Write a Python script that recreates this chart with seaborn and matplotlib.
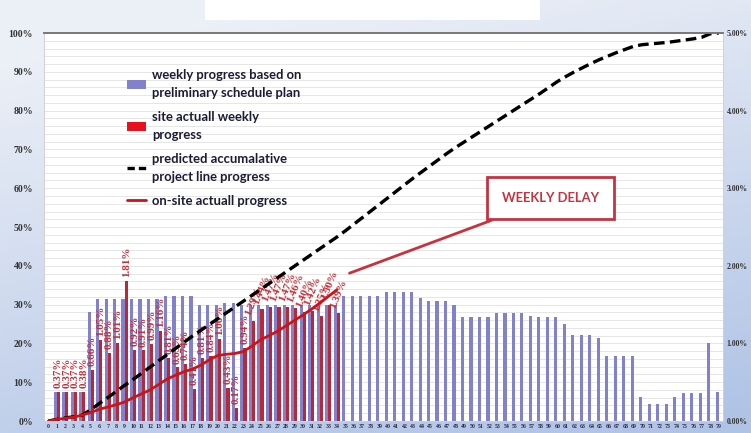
import numpy as np
import pandas as pd
import matplotlib
matplotlib.use("Agg")
import matplotlib.pyplot as plt
import seaborn as sns
from matplotlib.patches import Patch, Rectangle
from matplotlib.lines import Line2D
from matplotlib.ticker import FuncFormatter

# ---------------- data ----------------
weeks = list(range(80))

# weekly progress based on preliminary schedule plan (right axis, %)
plan_weekly = [0.00, 0.38, 0.38, 0.38, 0.38, 1.41, 1.57, 1.57, 1.57, 1.57,
               1.57, 1.57, 1.57, 1.57, 1.61, 1.61, 1.61, 1.61, 1.50, 1.50,
               1.50, 1.52, 1.52, 1.49, 1.49, 1.49, 1.49, 1.49, 1.49, 1.49,
               1.49, 1.49, 1.49, 1.49, 1.49, 1.61, 1.61, 1.61, 1.61, 1.61,
               1.66, 1.66, 1.66, 1.66, 1.58, 1.55, 1.55, 1.55, 1.49, 1.34,
               1.34, 1.34, 1.34, 1.39, 1.39, 1.39, 1.39, 1.35, 1.34, 1.34,
               1.34, 1.25, 1.11, 1.11, 1.11, 1.07, 0.84, 0.84, 0.84, 0.84,
               0.31, 0.22, 0.22, 0.22, 0.31, 0.36, 0.36, 0.36, 1.01, 0.38]

# site actual weekly progress (right axis, %)
actual_weeks = list(range(1, 35))
actual_weekly = [0.37, 0.37, 0.37, 0.38, 0.66, 1.05, 0.88, 1.01, 1.81, 0.92,
                 0.91, 0.99, 1.16, 0.81, 0.69, 0.74, 0.41, 0.81, 0.84, 1.06,
                 0.43, 0.17, 0.94, 1.29, 1.44, 1.47, 1.47, 1.47, 1.46, 1.40,
                 1.42, 1.35, 1.50, 1.39]

# predicted accumulative project line progress (left axis, %)
planned_cum = [0.0, 0.4, 0.8, 1.1, 1.5, 2.9, 4.5, 6.0, 7.6, 9.2,
               10.7, 12.3, 13.9, 15.5, 17.1, 18.7, 20.3, 21.9, 23.4, 24.9,
               26.4, 27.9, 29.4, 30.9, 32.4, 33.9, 35.4, 36.9, 38.4, 39.9,
               41.4, 42.9, 44.4, 45.9, 47.4, 49.0, 50.7, 52.4, 54.1, 55.8,
               57.5, 59.2, 60.9, 62.6, 64.2, 65.8, 67.4, 69.0, 70.5, 71.9,
               73.3, 74.7, 76.1, 77.5, 78.9, 80.3, 81.7, 83.1, 84.5, 86.0,
               87.5, 88.8, 90.0, 91.1, 92.2, 93.2, 94.1, 95.0, 95.8, 96.6,
               97.0, 97.2, 97.4, 97.6, 97.9, 98.2, 98.5, 98.9, 99.8, 100.0]

# on-site actual progress (left axis, %)
actual_cum_weeks = list(range(0, 35))
actual_cum = [0.0, 0.4, 0.7, 1.0, 1.5, 2.2, 3.0, 3.6, 4.2, 4.9,
              6.0, 7.0, 8.0, 9.4, 10.8, 11.8, 12.7, 13.4, 14.4, 15.8,
              16.9, 17.2, 17.4, 17.9, 19.3, 20.9, 22.0, 23.1, 24.5, 25.9,
              27.3, 28.8, 30.4, 32.1, 33.8]

left_ticks = [0, 10, 20, 30, 40, 50, 60, 70, 80, 90, 100]
right_ticks = [0, 1, 2, 3, 4, 5]
legend_labels = ["weekly progress based on\npreliminary schedule plan",
                 "site actuall weekly\nprogress",
                 "predicted accumalative\nproject line progress",
                 "on-site actuall progress"]
annotation_text = "WEEKLY DELAY"

# ---------------- style ----------------
sns.set_theme(style="white")
plt.rcParams['font.family'] = ['Liberation Serif', 'DejaVu Serif']

BLUE = '#8282cc'
RED_BAR = '#b82838'
RED_LINE = '#cc1418'
RED_TXT = '#c4303a'
ANN_RED = '#c8323e'

fig = plt.figure(figsize=(7.51, 4.33), dpi=100)

# background gradient
bg = fig.add_axes([0, 0, 1, 1], zorder=-10)
ny, nx = 120, 240
yy = np.linspace(0, 1, ny)[:, None]
xx = np.linspace(0, 1, nx)[None, :]
c_top = np.array([0.925, 0.940, 0.968])
c_bot = np.array([0.690, 0.765, 0.900])
t = np.clip(yy * 0.85 + xx * 0.30 - 0.12, 0, 1)
img = c_top[None, None, :] * (1 - t[..., None]) + c_bot[None, None, :] * t[..., None]
bg.imshow(img, aspect='auto', extent=[0, 1, 0, 1], origin='upper')
bg.set_axis_off()
fig.patches.append(Rectangle((0.273, 0.954), 0.446, 0.046, transform=fig.transFigure,
                             facecolor='white', edgecolor='none', zorder=-5))

# bars axis (right scale)
ax2 = fig.add_axes([0.0586, 0.0277, 0.904, 0.896])
ax2.set_facecolor('white')

df_plan = pd.DataFrame({'week': weeks, 'value': plan_weekly, 'series': 'plan'})
df_act = pd.DataFrame({'week': actual_weeks, 'value': actual_weekly, 'series': 'actual'})
df = pd.concat([df_plan, df_act], ignore_index=True)

sns.barplot(data=df, x='week', y='value', hue='series', order=weeks,
            hue_order=['plan', 'actual'], palette={'plan': BLUE, 'actual': RED_BAR},
            dodge=True, width=0.74, saturation=1, errorbar=None, legend=False,
            linewidth=0, ax=ax2)

# lines axis (left scale)
ax = ax2.twinx()

ax2.set_xlim(-0.5, 79.5)
ax2.set_ylim(0, 5)
ax2.yaxis.tick_right()
ax2.yaxis.set_label_position('right')
ax2.set_yticks(right_ticks)
ax2.yaxis.set_major_formatter(FuncFormatter(lambda v, p: f"{v:.2f}%"))
ax2.set_yticks(np.arange(0, 5.001, 0.1), minor=True)
ax2.yaxis.set_minor_formatter(FuncFormatter(lambda v, p: ""))
ax2.grid(True, which='both', axis='y', color='#e2e2e2', linewidth=0.6)
ax2.set_axisbelow(True)
ax2.set_xticks(weeks)
ax2.set_xticklabels([str(w) for w in weeks])
ax2.tick_params(axis='x', length=0, pad=2, labelsize=4.2, labelcolor='#2a2a48')
ax2.tick_params(axis='y', which='both', length=0, pad=2.5, labelsize=5.6, labelcolor='#333333',
                left=False, labelleft=False, right=True, labelright=True)
for lab in ax2.get_xticklabels() + ax2.get_yticklabels():
    lab.set_fontweight('bold')
ax2.set_xlabel('')
ax2.set_ylabel('')

# labels above red bars
red_patches = [p for p in ax2.containers[1] if np.isfinite(p.get_height())]
red_patches = sorted(red_patches, key=lambda p: p.get_x())
for p, v, w in zip(red_patches, actual_weekly, actual_weeks):
    rot = 90 if w < 24 else 68
    ax2.text(p.get_x() + p.get_width() / 2, p.get_height() + 0.05, f"{v:.2f}%",
             rotation=rot, ha='center', va='bottom', fontsize=8, fontweight='bold',
             color=RED_TXT)

ax.patch.set_visible(False)
sns.lineplot(x=weeks, y=planned_cum, ax=ax, color='black', linewidth=2.4)
ax.lines[-1].set_linestyle((0, (3.2, 1.6)))
sns.lineplot(x=actual_cum_weeks, y=actual_cum, ax=ax, color=RED_LINE, linewidth=2.0)
ax.set_ylim(0, 100)
ax.set_xlim(-0.5, 79.5)
ax.yaxis.tick_left()
ax.set_yticks(left_ticks)
ax.yaxis.set_major_formatter(FuncFormatter(lambda v, p: f"{v:.0f}%"))
ax.tick_params(axis='y', length=0, pad=8, labelsize=7, labelcolor='#333333',
               left=True, labelleft=True, right=False, labelright=False)
for lab in ax.get_yticklabels():
    lab.set_fontweight('bold')
ax.set_ylabel('')

for a in (ax, ax2):
    for s in ['left', 'right', 'bottom']:
        a.spines[s].set_color('#d0d0d0')
        a.spines[s].set_linewidth(0.6)
    a.spines['top'].set_color('#7a7a7a')
    a.spines['top'].set_linewidth(1.3)

# legend
handles = [Patch(facecolor=BLUE, edgecolor='none'),
           Patch(facecolor='#e8101a', edgecolor='none'),
           Line2D([0], [0], color='black', linewidth=2.4, linestyle=(0, (2.2, 1.2))),
           Line2D([0], [0], color=RED_LINE, linewidth=2.0)]
leg = ax.legend(handles, legend_labels, loc='upper left', bbox_to_anchor=(0.115, 0.92),
                frameon=False, handlelength=1.4, handletextpad=0.5, labelspacing=0.95,
                borderaxespad=0,
                prop={'family': ['Lato', 'DejaVu Sans'], 'weight': 'bold', 'size': 9.4})
for txt in leg.get_texts():
    txt.set_color('#1c1c36')
    txt.set_linespacing(1.55)

# annotation
ax.annotate(annotation_text, xy=(35.5, 38.1), xytext=(59.2, 57.4),
            ha='center', va='center', fontsize=9.4, fontweight='bold',
            family=['Lato', 'DejaVu Sans'], color=ANN_RED,
            bbox=dict(boxstyle='square,pad=1.15', facecolor='white', edgecolor=ANN_RED, linewidth=2),
            arrowprops=dict(arrowstyle='-', color=ANN_RED, linewidth=2, shrinkA=0, shrinkB=0))

fig.savefig('out.png', dpi=100)
